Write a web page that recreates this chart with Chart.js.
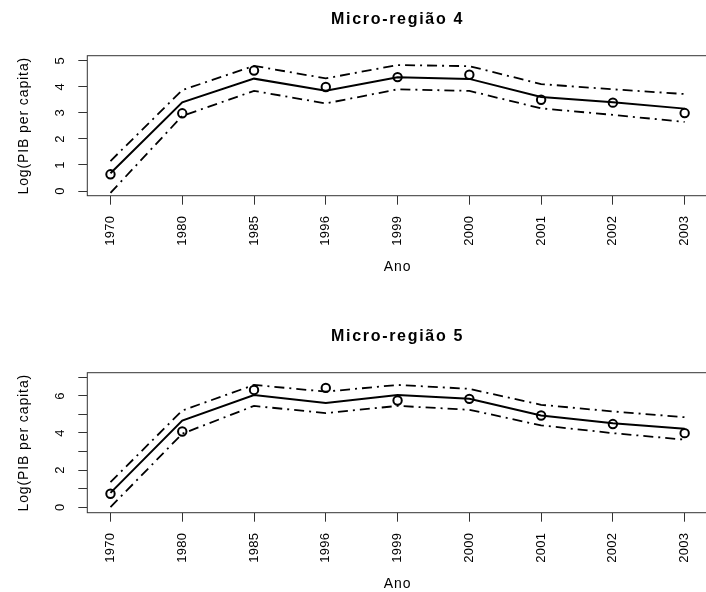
<!DOCTYPE html>
<html>
<head>
<meta charset="utf-8">
<script src="https://cdn.jsdelivr.net/npm/chart.js@4.4.1/dist/chart.umd.min.js"></script>
<style>
  body { margin: 0; background: #fff; }
  .panel { position: absolute; left: 0; width: 706px; height: 275px; }
</style>
</head>
<body>
<div class="panel" style="top:0"><canvas id="c4" width="706" height="275"></canvas></div>
<div class="panel" style="top:317px"><canvas id="c5" width="706" height="275"></canvas></div>
<script>
const years = ['1970', '1980', '1985', '1996', '1999', '2000', '2001', '2002', '2003']

// Micro-região 4
const obs4 = [0.64, 2.98, 4.62, 3.99, 4.37, 4.46, 3.50, 3.39, 2.99]
const fit4 = [0.68, 3.40, 4.31, 3.85, 4.36, 4.30, 3.61, 3.40, 3.16]
const upper4 = [1.15, 3.87, 4.80, 4.32, 4.83, 4.79, 4.10, 3.90, 3.72]
const lower4 = [-0.07, 2.88, 3.84, 3.36, 3.90, 3.84, 3.17, 2.92, 2.65]
const yTicks4 = [0, 1, 2, 3, 4, 5]
const yLabels4 = ['0', '1', '2', '3', '4', '5']

// Micro-região 5
const obs5 = [0.72, 4.08, 6.32, 6.43, 5.75, 5.84, 4.94, 4.48, 3.99]
const fit5 = [0.77, 4.67, 6.05, 5.61, 6.05, 5.84, 4.94, 4.53, 4.23]
const upper5 = [1.35, 5.21, 6.59, 6.23, 6.59, 6.38, 5.52, 5.16, 4.85]
const lower5 = [0.0, 3.96, 5.46, 5.07, 5.46, 5.25, 4.41, 3.99, 3.64]
const yTicks5 = [0, 1, 2, 3, 4, 5, 6, 7]
const yLabels5 = ['0', '', '2', '', '4', '', '6', '']

const FONT = '"Liberation Sans", Arial, Helvetica, sans-serif'

function pts(arr) {
  return arr.map((v, i) => ({ x: i + 1, y: v }))
}

// R-style box, titles and rotated axis labels
const decor = {
  id: 'decor',
  beforeDraw(chart) {
    chart.ctx.letterSpacing = '0.3px'
  },
  afterDraw(chart, args, opts) {
    const ctx = chart.ctx
    const a = chart.chartArea
    const xs = chart.scales.x
    const ys = chart.scales.y
    const cx = xs.getPixelForValue(5)
    ctx.save()
    ctx.strokeStyle = '#333'
    ctx.lineWidth = 1
    ctx.strokeRect(a.left, a.top, a.right - a.left + 10, a.bottom - a.top)

    ctx.fillStyle = '#000'
    ctx.textAlign = 'center'
    ctx.textBaseline = 'alphabetic'
    ctx.letterSpacing = '1.7px'
    ctx.font = 'bold 16px ' + FONT
    ctx.fillText(opts.title, cx, 24)

    ctx.letterSpacing = '0.9px'
    ctx.font = '14px ' + FONT
    ctx.fillText('Ano', cx, 270.5)

    ctx.save()
    ctx.translate(27.5, (a.top + a.bottom) / 2)
    ctx.rotate(-Math.PI / 2)
    ctx.fillText('Log(PIB per capita)', 0, 0)
    ctx.restore()

    ctx.letterSpacing = '0.3px'
    ctx.font = '13px ' + FONT
    opts.ticks.forEach((t, i) => {
      const lab = opts.labels[i]
      if (!lab) return
      ctx.save()
      ctx.translate(63.5, ys.getPixelForValue(t))
      ctx.rotate(-Math.PI / 2)
      ctx.fillText(lab, 0, 0)
      ctx.restore()
    })
    ctx.restore()
  }
}

function makePanel(id, title, obs, fit, upper, lower, yMin, yMax, ticks, labels) {
  const dash = [10, 5, 2, 5]
  return new Chart(document.getElementById(id), {
    type: 'line',
    data: {
      datasets: [
        { data: pts(fit), borderColor: '#000', borderWidth: 2, pointRadius: 0, tension: 0 },
        { data: pts(upper), borderColor: '#000', borderWidth: 1.8, borderDash: dash, pointRadius: 0 },
        { data: pts(lower), borderColor: '#000', borderWidth: 1.8, borderDash: dash, pointRadius: 0 },
        {
          data: pts(obs), showLine: false, pointRadius: 4.2, pointBorderWidth: 2,
          pointBorderColor: '#000', pointBackgroundColor: 'rgba(0,0,0,0)'
        }
      ]
    },
    options: {
      responsive: false,
      animation: false,
      devicePixelRatio: 1,
      layout: { padding: { top: 55.7, left: 0, right: 0, bottom: 0 } },
      plugins: {
        legend: { display: false },
        title: { display: false },
        tooltip: { enabled: false },
        decor: { title, ticks, labels }
      },
      scales: {
        x: {
          type: 'linear',
          min: 0.677,
          max: 9.211,
          afterBuildTicks: (s) => { s.ticks = years.map((y, i) => ({ value: i + 1 })) },
          afterFit: (s) => {
            s.height = 275 - 195.7
            s.paddingLeft = 0
            s.paddingRight = 0
          },
          ticks: {
            autoSkip: false,
            minRotation: 90,
            maxRotation: 90,
            padding: 11,
            color: '#000',
            font: { family: FONT, size: 13 },
            callback: (v) => years[v - 1]
          },
          grid: { drawOnChartArea: false, drawTicks: true, tickLength: 9, color: '#333' },
          border: { display: false }
        },
        y: {
          type: 'linear',
          min: yMin,
          max: yMax,
          afterBuildTicks: (s) => { s.ticks = ticks.map(v => ({ value: v })) },
          afterFit: (s) => {
            s.width = 87.3
            s.paddingTop = 0
            s.paddingBottom = 0
          },
          ticks: { display: false },
          grid: { drawOnChartArea: false, drawTicks: true, tickLength: 9, color: '#333' },
          border: { display: false }
        }
      }
    },
    plugins: [decor]
  })
}

makePanel('c4', 'Micro-região 4', obs4, fit4, upper4, lower4, -0.18, 5.19, yTicks4, yLabels4)
makePanel('c5', 'Micro-região 5', obs5, fit5, upper5, lower5, -0.30, 7.25, yTicks5, yLabels5)
</script>
</body>
</html>
